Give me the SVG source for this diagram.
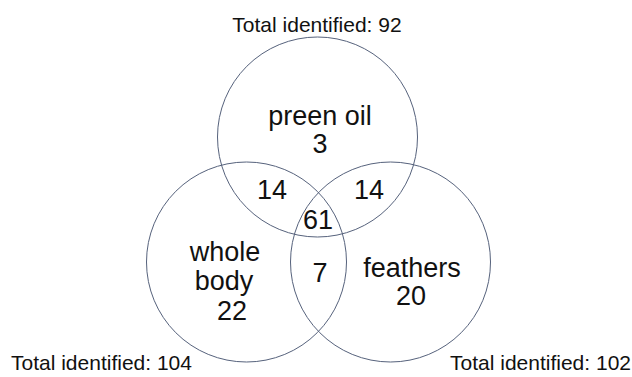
<svg xmlns="http://www.w3.org/2000/svg" width="632" height="377" viewBox="0 0 632 377">
<style>
.c{fill:none;stroke:#56627c;stroke-width:1}
.t{font-family:"Liberation Sans",Arial,sans-serif;font-size:21px;fill:#111}
.l{font-family:"Liberation Sans",Arial,sans-serif;font-size:27px;fill:#111;text-anchor:middle}
</style>
<rect width="632" height="377" fill="#fff"/>
<g id="preen-oil">
<circle class="c" cx="317.5" cy="137" r="100"/>
<text class="l" x="320" y="125">preen oil</text>
<text class="l" x="320" y="153">3</text>
</g>
<g id="whole-body">
<circle class="c" cx="246.5" cy="262" r="100"/>
<text class="l" x="225" y="261">whole</text>
<text class="l" x="224" y="290">body</text>
<text class="l" x="232" y="320">22</text>
</g>
<g id="feathers">
<circle class="c" cx="390.5" cy="262" r="100"/>
<text class="l" x="412" y="277">feathers</text>
<text class="l" x="411" y="305">20</text>
</g>
<g id="overlaps">
<text class="l" x="272" y="199">14</text>
<text class="l" x="369" y="199">14</text>
<text class="l" x="318" y="229">61</text>
<text class="l" x="320" y="282">7</text>
</g>
<g id="totals">
<text class="t" x="317" y="32" text-anchor="middle">Total identified: 92</text>
<text class="t" x="11" y="370">Total identified: 104</text>
<text class="t" x="631" y="370" text-anchor="end">Total identified: 102</text>
</g>
<g id="connectors"/>
</svg>
